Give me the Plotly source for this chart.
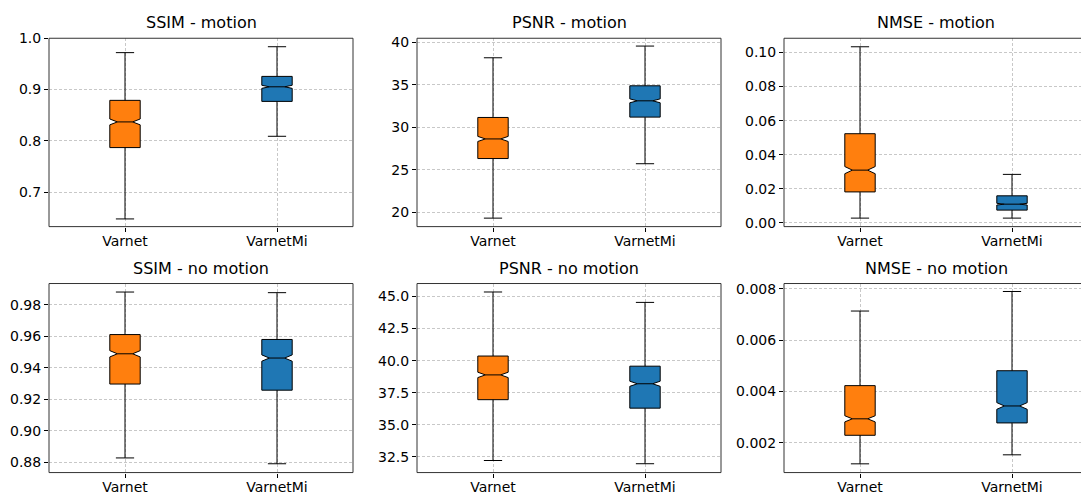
import plotly.graph_objects as go

categories = ["Varnet", "VarnetMi"]
colors = ["#ff7f0e", "#1f77b4"]
panel_titles = ["SSIM - motion", "PSNR - motion", "NMSE - motion",
                "SSIM - no motion", "PSNR - no motion", "NMSE - no motion"]

# five-number summaries: [Varnet, VarnetMi]
ssim_m_lo = [0.648, 0.809]
ssim_m_q1 = [0.787, 0.877]
ssim_m_med = [0.837, 0.9054]
ssim_m_q3 = [0.879, 0.9257]
ssim_m_hi = [0.972, 0.9835]
ssim_m_notch = [0.0057, 0.003]

psnr_m_lo = [19.31, 25.72]
psnr_m_q1 = [26.33, 31.21]
psnr_m_med = [28.64, 33.13]
psnr_m_q3 = [31.17, 34.9]
psnr_m_hi = [38.2, 39.58]
psnr_m_notch = [0.30, 0.23]

nmse_m_lo = [0.0027, 0.0027]
nmse_m_q1 = [0.0181, 0.0074]
nmse_m_med = [0.0309, 0.0109]
nmse_m_q3 = [0.0523, 0.0158]
nmse_m_hi = [0.1034, 0.0284]
nmse_m_notch = [0.0021, 0.0005]

ssim_n_lo = [0.8827, 0.879]
ssim_n_q1 = [0.9296, 0.9257]
ssim_n_med = [0.9488, 0.9461]
ssim_n_q3 = [0.961, 0.9579]
ssim_n_hi = [0.988, 0.9876]
ssim_n_notch = [0.002, 0.002]

psnr_n_lo = [32.22, 31.97]
psnr_n_q1 = [36.96, 36.3]
psnr_n_med = [38.89, 38.2]
psnr_n_q3 = [40.36, 39.57]
psnr_n_hi = [45.35, 44.54]
psnr_n_notch = [0.21, 0.20]

nmse_n_lo = [0.00119, 0.00154]
nmse_n_q1 = [0.0023, 0.00278]
nmse_n_med = [0.00294, 0.00344]
nmse_n_q3 = [0.00423, 0.00481]
nmse_n_hi = [0.00713, 0.00789]
nmse_n_notch = [0.00012, 0.00013]

y_ranges = [[0.633, 1.0], [18.31, 40.5], [-0.0023, 0.1084],
            [0.8734, 0.9934], [31.28, 46.01], [0.00085, 0.0082]]
y_dticks = [0.1, 5, 0.02, 0.02, 2.5, 0.002]
y_formats = [".1f", "d", ".2f", ".2f", ".1f", ".3f"]

panels = [
    (ssim_m_lo, ssim_m_q1, ssim_m_med, ssim_m_q3, ssim_m_hi, ssim_m_notch),
    (psnr_m_lo, psnr_m_q1, psnr_m_med, psnr_m_q3, psnr_m_hi, psnr_m_notch),
    (nmse_m_lo, nmse_m_q1, nmse_m_med, nmse_m_q3, nmse_m_hi, nmse_m_notch),
    (ssim_n_lo, ssim_n_q1, ssim_n_med, ssim_n_q3, ssim_n_hi, ssim_n_notch),
    (psnr_n_lo, psnr_n_q1, psnr_n_med, psnr_n_q3, psnr_n_hi, psnr_n_notch),
    (nmse_n_lo, nmse_n_q1, nmse_n_med, nmse_n_q3, nmse_n_hi, nmse_n_notch),
]

W, H = 1081, 500
# pixel layout of plotting areas
col_px = [(49, 353), (417, 721), (784, 1088)]
row_px = [(31, 224), (282.3, 476)]

FONT = "DejaVu Sans"
GRID = "#c8c8c8"
fig = go.Figure()
layout = dict(width=W, height=H, margin=dict(l=0, r=0, t=0, b=0),
              paper_bgcolor="white", plot_bgcolor="white", showlegend=False,
              font=dict(family=FONT, size=14, color="black"))
shapes = []
annotations = []

for i, (lo, q1, med, q3, hi, notch) in enumerate(panels):
    r, c = divmod(i, 3)
    ax = "" if i == 0 else str(i + 1)
    x0p, x1p = col_px[c]
    y0p, y1p = row_px[r]
    x1clip = min(x1p, W)
    unit = (x1p - x0p) / 2.0
    xr = [0.5, 0.5 + (x1clip - x0p) / unit]
    for k in range(2):
        fig.add_trace(go.Box(
            x=[k + 1], q1=[q1[k]], median=[med[k]], q3=[q3[k]],
            lowerfence=[lo[k]], upperfence=[hi[k]], notchspan=[notch[k]],
            notched=True, notchwidth=0.25, width=0.2, whiskerwidth=0.6,
            fillcolor=colors[k], line=dict(color="black", width=1),
            boxpoints=False, hoverinfo="skip", name=categories[k],
            xaxis="x" + ax, yaxis="y" + ax))
    layout["xaxis" + ax] = dict(
        domain=[x0p / W, x1clip / W], range=xr, anchor="y" + ax,
        tickvals=[1, 2], ticktext=categories, ticks="outside", ticklen=4,
        tickcolor="black", showgrid=True, gridcolor=GRID, griddash="3px,2px",
        gridwidth=0.8, zeroline=False, showline=False, fixedrange=True,
        ticklabelstandoff=-2,
        tickfont=dict(family=FONT, size=14, color="black"))
    layout["yaxis" + ax] = dict(
        domain=[1 - y1p / H, 1 - y0p / H], range=y_ranges[i], anchor="x" + ax,
        dtick=y_dticks[i], tick0=0, tickformat=y_formats[i], ticks="outside",
        ticklen=4, tickcolor="black", showgrid=True, gridcolor=GRID,
        griddash="3px,2px", gridwidth=0.8, zeroline=False, showline=False,
        fixedrange=True, tickfont=dict(family=FONT, size=14, color="black"))
    shapes.append(dict(type="rect", xref="paper", yref="paper",
                       x0=x0p / W, x1=x1p / W, y0=1 - y1p / H, y1=1 - y0p / H,
                       line=dict(color="#333333", width=1), layer="above"))
    annotations.append(dict(text=panel_titles[i], xref="paper", yref="paper",
                            x=(x0p + x1p) / 2 / W, y=1 - y0p / H,
                            xanchor="center", yanchor="bottom", yshift=4,
                            showarrow=False,
                            font=dict(family=FONT, size=16, color="black")))

layout["shapes"] = shapes
layout["annotations"] = annotations
fig.update_layout(**layout)
fig.write_html("out.html", config={"displayModeBar": False},
               post_script="document.body.style.margin='0';document.body.style.overflow='hidden';")
